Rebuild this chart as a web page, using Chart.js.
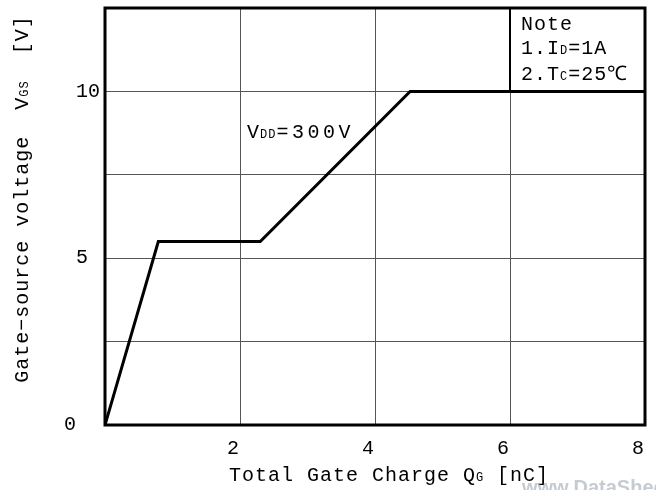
<!DOCTYPE html>
<html><head><meta charset="utf-8">
<script src="https://cdn.jsdelivr.net/npm/chart.js@4/dist/chart.umd.min.js"></script>
<style>html,body{margin:0;padding:0;background:#fff}#wrap{width:656px;height:490px;position:relative}</style>
</head><body><div id="wrap"><canvas id="c" width="656" height="490"></canvas></div>
<script>
const qg = [0, 0.79, 2.3, 4.52, 8];
const vgs = [0, 5.5, 5.5, 10, 10];
const xTickValues = [2, 4, 6, 8];
const yTickLabels = { 0: "0  ", 5: "5 ", 10: "10" };
const xTitle = [["Total Gate Charge Q", 20], ["G", 12], [" [nC]", 20]];
const yTitle = [["Gate\u2212source voltage  V", 20], ["GS", 12], ["  [V]", 20]];
const noteLines = [
  [["Note", 20]],
  [["1.I", 20], ["D", 12], ["=1A", 20]],
  [["2.T", 20], ["C", 12], ["=25\u2103", 20]]
];
const vddLabel = [["V", 20, 1], ["DD", 12, 1], ["=300V", 20, 3.5]];

const FONT = "'Liberation Mono', 'DejaVu Sans Mono', monospace";

function runsWidth(ctx, runs, spacing) {
  let w = 0;
  for (const [t, s, sp] of runs) {
    ctx.letterSpacing = (sp !== undefined ? sp : spacing || 0) + 'px';
    ctx.font = s + "px " + FONT; w += ctx.measureText(t).width;
  }
  return w;
}
function drawRuns(ctx, runs, x, y, align, spacing) {
  let cx = x;
  if (align === 'center') cx = x - runsWidth(ctx, runs, spacing) / 2;
  ctx.textBaseline = 'alphabetic';
  ctx.textAlign = 'left';
  for (const [t, s, sp] of runs) {
    ctx.letterSpacing = (sp !== undefined ? sp : spacing || 0) + 'px';
    ctx.font = s + "px " + FONT;
    ctx.fillText(t, cx, y);
    cx += ctx.measureText(t).width;
  }
  ctx.letterSpacing = '0px';
}

const textPlugin = {
  id: 'texts',
  afterDraw(chart) {
    const ctx = chart.ctx;
    const xs = chart.scales.x, ys = chart.scales.y;
    const a = chart.chartArea;
    ctx.save();
    // note box
    ctx.strokeStyle = '#000';
    ctx.lineWidth = 2;
    ctx.beginPath();
    ctx.moveTo(xs.getPixelForValue(6), a.top);
    ctx.lineTo(xs.getPixelForValue(6), ys.getPixelForValue(10));
    ctx.lineTo(a.right, ys.getPixelForValue(10));
    ctx.stroke();
    // frame
    ctx.lineWidth = 3;
    ctx.strokeRect(a.left, a.top, a.right - a.left, a.bottom - a.top);
    ctx.fillStyle = '#000';
    // axis titles
    drawRuns(ctx, xTitle, 389, 481, 'center', 1);
    ctx.save();
    ctx.translate(28, 199);
    ctx.rotate(-Math.PI / 2);
    drawRuns(ctx, yTitle, 0, 0, 'center', 1);
    ctx.restore();
    // note
    const nx = xs.getPixelForValue(6) + 11;
    drawRuns(ctx, noteLines[0], nx, 30, 'left', 1);
    drawRuns(ctx, noteLines[1], nx, 54, 'left', 1);
    drawRuns(ctx, noteLines[2], nx, 80, 'left', 1);
    // VDD
    drawRuns(ctx, vddLabel, 247, 138, 'left', 1);
    // watermark
    ctx.fillStyle = 'rgba(150,160,170,0.55)';
    ctx.font = "bold 20px 'Liberation Sans', sans-serif";
    ctx.fillText("www.DataSheet4U.com", 522, 494);
    ctx.restore();
  }
};

new Chart(document.getElementById('c'), {
  type: 'line',
  data: {
    datasets: [{
      data: qg.map((q, i) => ({ x: q, y: vgs[i] })),
      borderColor: '#000',
      borderWidth: 3,
      pointRadius: 0,
      tension: 0,
      fill: false
    }]
  },
  options: {
    responsive: false,
    animation: false,
    layout: { padding: { top: 8, right: 11, left: 0, bottom: 0 } },
    plugins: { legend: { display: false }, tooltip: { enabled: false } },
    scales: {
      x: {
        type: 'linear', min: 0, max: 8,
        afterBuildTicks(s) { s.ticks = [0].concat(xTickValues).map(v => ({ value: v })); },
        afterFit(s) { s.height = 65; s.paddingLeft = 0; s.paddingRight = 0; },
        grid: { color: '#555', lineWidth: 1, drawTicks: false },
        border: { display: false },
        ticks: {
          color: '#000', font: { family: FONT, size: 20 }, padding: 12, labelOffset: -7,
          maxRotation: 0, autoSkip: false,
          callback: v => xTickValues.includes(v) ? String(v) : ''
        }
      },
      y: {
        type: 'linear', min: 0, max: 12.5,
        afterBuildTicks(s) { s.ticks = [0, 2.5, 5, 7.5, 10, 12.5].map(v => ({ value: v })); },
        afterFit(s) { s.width = 105; s.paddingTop = 0; s.paddingBottom = 0; },
        grid: { color: '#555', lineWidth: 1, drawTicks: false },
        border: { display: false },
        ticks: {
          color: '#000', font: { family: FONT, size: 20 }, padding: 5, crossAlign: 'near',
          autoSkip: false,
          callback: v => (v in yTickLabels) ? yTickLabels[v] : ''
        }
      }
    }
  },
  plugins: [textPlugin]
});
</script>
</body></html>
